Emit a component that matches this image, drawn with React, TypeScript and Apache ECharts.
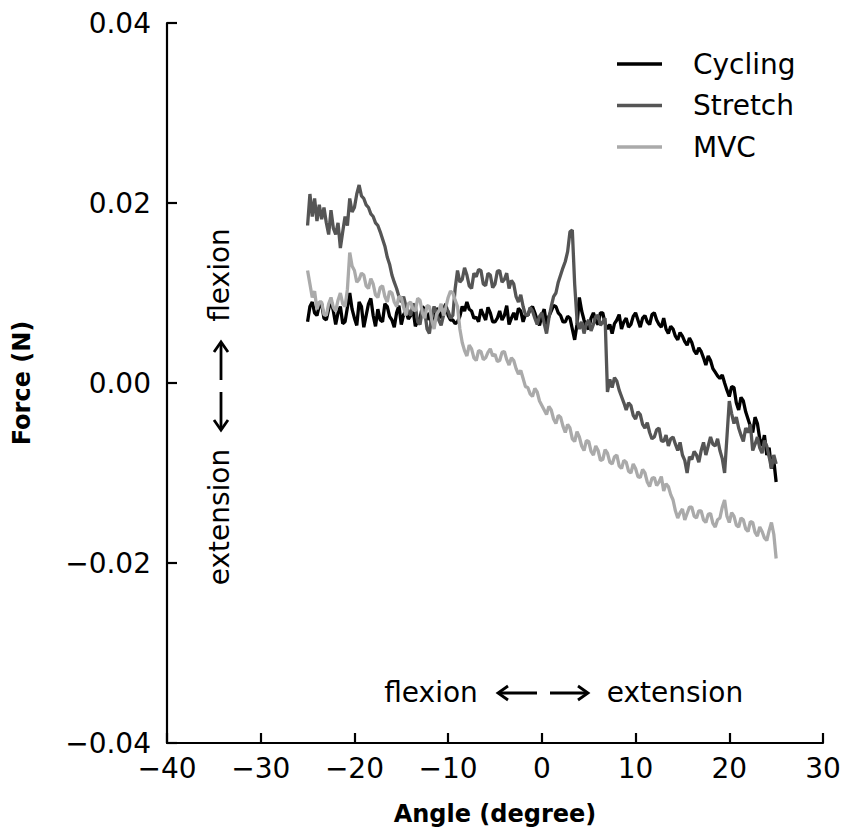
import React, { useEffect, useRef } from "react";
import * as echarts from "echarts";

const angles = [
  -25, -24.75, -24.5, -24.25, -24, -23.75, -23.5, -23.25, -23, -22.75, -22.5, -22.25,
  -22, -21.75, -21.5, -21.25, -21, -20.75, -20.5, -20.25, -20, -19.75, -19.5, -19.25,
  -19, -18.75, -18.5, -18.25, -18, -17.75, -17.5, -17.25, -17, -16.75, -16.5, -16.25,
  -16, -15.75, -15.5, -15.25, -15, -14.75, -14.5, -14.25, -14, -13.75, -13.5, -13.25,
  -13, -12.75, -12.5, -12.25, -12, -11.75, -11.5, -11.25, -11, -10.75, -10.5, -10.25,
  -10, -9.75, -9.5, -9.25, -9, -8.75, -8.5, -8.25, -8, -7.75, -7.5, -7.25,
  -7, -6.75, -6.5, -6.25, -6, -5.75, -5.5, -5.25, -5, -4.75, -4.5, -4.25,
  -4, -3.75, -3.5, -3.25, -3, -2.75, -2.5, -2.25, -2, -1.75, -1.5, -1.25,
  -1, -0.75, -0.5, -0.25, 0, 0.25, 0.5, 0.75, 1, 1.25, 1.5, 1.75,
  2, 2.25, 2.5, 2.75, 3, 3.25, 3.5, 3.75, 4, 4.25, 4.5, 4.75,
  5, 5.25, 5.5, 5.75, 6, 6.25, 6.5, 6.75, 7, 7.25, 7.5, 7.75,
  8, 8.25, 8.5, 8.75, 9, 9.25, 9.5, 9.75, 10, 10.25, 10.5, 10.75,
  11, 11.25, 11.5, 11.75, 12, 12.25, 12.5, 12.75, 13, 13.25, 13.5, 13.75,
  14, 14.25, 14.5, 14.75, 15, 15.25, 15.5, 15.75, 16, 16.25, 16.5, 16.75,
  17, 17.25, 17.5, 17.75, 18, 18.25, 18.5, 18.75, 19, 19.25, 19.5, 19.75,
  20, 20.25, 20.5, 20.75, 21, 21.25, 21.5, 21.75, 22, 22.25, 22.5, 22.75,
  23, 23.25, 23.5, 23.75, 24, 24.25, 24.5, 24.75, 25,
];

const cycling = [
  0.0068, 0.0085, 0.009, 0.0078, 0.0075, 0.0086, 0.0088, 0.0072, 0.007, 0.0082, 0.0092, 0.008,
  0.0065, 0.0078, 0.0085, 0.0066, 0.0068, 0.0084, 0.01, 0.0082, 0.0072, 0.0064, 0.009, 0.0085,
  0.0062, 0.0075, 0.0088, 0.0094, 0.0075, 0.0063, 0.0082, 0.007, 0.0068, 0.0088, 0.0085, 0.0074,
  0.007, 0.0062, 0.0078, 0.0086, 0.0065, 0.0076, 0.008, 0.0071, 0.0075, 0.0082, 0.0063, 0.0069,
  0.0072, 0.0085, 0.0082, 0.007, 0.0078, 0.0064, 0.0068, 0.0083, 0.008, 0.0072, 0.0082, 0.0088,
  0.0075, 0.007, 0.007, 0.0066, 0.0068, 0.0074, 0.0085, 0.008, 0.009, 0.0082, 0.008, 0.0072,
  0.0073, 0.0068, 0.0082, 0.0076, 0.007, 0.0084, 0.0078, 0.0068, 0.0068, 0.0072, 0.008, 0.007,
  0.0075, 0.0086, 0.0065, 0.0072, 0.0078, 0.007, 0.0083, 0.008, 0.0068, 0.0076, 0.0075, 0.0082,
  0.0085, 0.0078, 0.007, 0.0064, 0.0075, 0.0082, 0.0065, 0.0074, 0.008, 0.0086, 0.0085, 0.0078,
  0.0075, 0.0068, 0.0068, 0.0074, 0.0072, 0.006, 0.0048, 0.0065, 0.0095, 0.008, 0.007, 0.0062,
  0.006, 0.0072, 0.0078, 0.0069, 0.0065, 0.0078, 0.0078, 0.0066, 0.006, 0.0065, 0.0055, 0.0066,
  0.007, 0.0076, 0.006, 0.0068, 0.0072, 0.0062, 0.0065, 0.0074, 0.0078, 0.007, 0.0062, 0.0072,
  0.0075, 0.0068, 0.0065, 0.0076, 0.0078, 0.007, 0.0065, 0.0062, 0.0072, 0.006, 0.0055, 0.0063,
  0.006, 0.0052, 0.0048, 0.0056, 0.0052, 0.0046, 0.0042, 0.005, 0.0045, 0.0036, 0.0032, 0.0039,
  0.0035, 0.0028, 0.002, 0.003, 0.0025, 0.0016, 0.0012, 0.0008, 0.0005, 0.0009, 0.0, -0.0008,
  -0.0015, -0.0004, -0.0005, -0.0022, -0.003, -0.0016, -0.002, -0.0032, -0.004, -0.0048, -0.0055, -0.0038,
  -0.0045, -0.0062, -0.007, -0.0058, -0.008, -0.0072, -0.0095, -0.0086, -0.011,
];

const stretch = [
  0.0175, 0.021, 0.0185, 0.0205, 0.018, 0.0198, 0.0182, 0.0195, 0.0178, 0.0165, 0.0192, 0.0172,
  0.0165, 0.0178, 0.015, 0.0168, 0.0185, 0.0175, 0.0205, 0.019, 0.0195, 0.021, 0.022, 0.0208,
  0.0205, 0.0198, 0.0195, 0.0188, 0.0185, 0.0178, 0.0175, 0.0168, 0.016, 0.0152, 0.014, 0.0132,
  0.012, 0.0112, 0.0105, 0.0096, 0.009, 0.0096, 0.0085, 0.008, 0.0075, 0.0088, 0.0085, 0.0068,
  0.0065, 0.0082, 0.008, 0.006, 0.0055, 0.0074, 0.0085, 0.0078, 0.007, 0.0064, 0.0075, 0.0082,
  0.008, 0.0072, 0.0075, 0.0105, 0.0125, 0.0112, 0.0115, 0.0128, 0.012, 0.0108, 0.0105, 0.0122,
  0.0118, 0.0126, 0.0125, 0.011, 0.0108, 0.0122, 0.012, 0.0106, 0.011, 0.0124, 0.0125, 0.0112,
  0.0115, 0.0122, 0.0105, 0.0114, 0.011, 0.0096, 0.009, 0.0098, 0.0085, 0.0076, 0.0075, 0.0084,
  0.008, 0.0072, 0.0065, 0.0074, 0.0078, 0.0066, 0.0055, 0.0072, 0.0085, 0.0096, 0.01, 0.0112,
  0.012, 0.0128, 0.0135, 0.0146, 0.0168, 0.017, 0.011, 0.007, 0.006, 0.0068, 0.0055, 0.0066,
  0.007, 0.0058, 0.0065, 0.0074, 0.0075, 0.0064, 0.0068, 0.0072, -0.001, 0.0004, -0.0005, 0.0006,
  0.0002, -0.0008, -0.0015, -0.0022, -0.003, -0.0022, -0.0025, -0.0036, -0.004, -0.0032, -0.0035, -0.0046,
  -0.005, -0.0044, -0.0055, -0.0062, -0.006, -0.0052, -0.005, -0.0064, -0.0065, -0.0058, -0.007, -0.0062,
  -0.006, -0.0068, -0.0075, -0.0066, -0.008, -0.0086, -0.01, -0.0082, -0.0085, -0.0076, -0.008, -0.0088,
  -0.0075, -0.0066, -0.008, -0.007, -0.006, -0.0068, -0.007, -0.0062, -0.0075, -0.0084, -0.01, -0.006,
  -0.002, -0.0034, -0.0045, -0.0038, -0.005, -0.0058, -0.0065, -0.005, -0.0055, -0.0046, -0.0075, -0.0068,
  -0.006, -0.0072, -0.0078, -0.0064, -0.007, -0.0082, -0.0095, -0.008, -0.009,
];

const mvc = [
  0.0125, 0.011, 0.0095, 0.0102, 0.0082, 0.009, 0.009, 0.0076, 0.0075, 0.0088, 0.0095, 0.0084,
  0.008, 0.0092, 0.01, 0.0088, 0.0085, 0.0104, 0.0145, 0.013, 0.0125, 0.0112, 0.0115, 0.0122,
  0.012, 0.0108, 0.0105, 0.0116, 0.011, 0.0098, 0.0095, 0.0106, 0.0108, 0.0096, 0.009, 0.0102,
  0.01, 0.009, 0.0085, 0.0096, 0.0095, 0.0084, 0.0075, 0.0088, 0.009, 0.0082, 0.008, 0.0094,
  0.0092, 0.0078, 0.0072, 0.0086, 0.0085, 0.007, 0.006, 0.0076, 0.008, 0.0088, 0.0075, 0.0084,
  0.0095, 0.0102, 0.01, 0.0092, 0.0085, 0.006, 0.0045, 0.0036, 0.003, 0.0042, 0.0038, 0.0028,
  0.0025, 0.0036, 0.0035, 0.0026, 0.0028, 0.0034, 0.0038, 0.003, 0.0032, 0.0024, 0.0025, 0.0034,
  0.0035, 0.0026, 0.002, 0.0028, 0.0025, 0.0016, 0.001, 0.0014, 0.0005, -0.0004, -0.0005, -0.0012,
  -0.0015, -0.0006, -0.001, -0.002, -0.0025, -0.003, -0.0035, -0.0026, -0.003, -0.004, -0.0045, -0.0036,
  -0.0038, -0.0048, -0.0055, -0.0046, -0.005, -0.0062, -0.0065, -0.0054, -0.006, -0.007, -0.0075, -0.0064,
  -0.0065, -0.0076, -0.008, -0.007, -0.0075, -0.0086, -0.0085, -0.0074, -0.0078, -0.0088, -0.009, -0.0082,
  -0.008, -0.0092, -0.0095, -0.0086, -0.0088, -0.0098, -0.01, -0.009, -0.0095, -0.0104, -0.0105, -0.0096,
  -0.01, -0.011, -0.0115, -0.0106, -0.0105, -0.0114, -0.011, -0.0104, -0.012, -0.0112, -0.0115, -0.0124,
  -0.013, -0.0142, -0.015, -0.0144, -0.014, -0.0152, -0.0145, -0.0138, -0.0138, -0.0148, -0.015, -0.0142,
  -0.0142, -0.0152, -0.0155, -0.0146, -0.0145, -0.0156, -0.016, -0.0152, -0.015, -0.0138, -0.013, -0.0148,
  -0.0155, -0.0144, -0.0148, -0.0158, -0.016, -0.015, -0.0152, -0.0162, -0.0165, -0.0154, -0.0155, -0.0166,
  -0.017, -0.016, -0.0165, -0.0172, -0.0175, -0.0164, -0.0155, -0.0168, -0.0195,
];

const seriesNames = ["Cycling", "Stretch", "MVC"];
const seriesColors = ["#000000", "#555555", "#aaaaaa"];
const xTicks = { min: -40, max: 30, interval: 10 };
const yTicks = { min: -0.04, max: 0.04, interval: 0.02 };

const FONT = "DejaVu Sans";

function fmtMinus(s: string) {
  return s.replace("-", "\u2212");
}

// Arrow drawn as shaft + chevron head, from (x1,y1) pointing to tip (x2,y2)
function arrow(x1: number, y1: number, x2: number, y2: number) {
  const dx = x2 - x1;
  const dy = y2 - y1;
  const len = Math.sqrt(dx * dx + dy * dy);
  const ux = dx / len;
  const uy = dy / len;
  const px = -uy;
  const py = ux;
  const hl = 10;
  const hw = 7;
  const style = { stroke: "#000", lineWidth: 2.8, fill: null, lineJoin: "miter", lineCap: "butt" };
  return [
    { type: "line", shape: { x1, y1, x2: x2 - ux * 1.5, y2: y2 - uy * 1.5 }, style },
    {
      type: "polyline",
      shape: {
        points: [
          [x2 - ux * hl + px * hw, y2 - uy * hl + py * hw],
          [x2, y2],
          [x2 - ux * hl - px * hw, y2 - uy * hl - py * hw],
        ],
      },
      style,
    },
  ];
}

export default function App() {
  const ref = useRef<HTMLDivElement>(null);
  useEffect(() => {
    if (!ref.current) return;
    const chart = echarts.init(ref.current, undefined, { renderer: "svg" });
    const datasets = [cycling, stretch, mvc];
    const txt = (text: string, x: number, y: number, rot = 0) => ({
      type: "text",
      x,
      y,
      rotation: rot,
      style: {
        text,
        fontFamily: FONT,
        fontSize: 28,
        fill: "#000",
        align: "center",
        verticalAlign: "middle",
      },
    });
    chart.setOption({
      animation: false,
      backgroundColor: "#ffffff",
      grid: { left: 167, right: 24, top: 23, bottom: 90 },
      legend: {
        orient: "vertical",
        left: 612,
        top: 45,
        itemWidth: 45,
        itemHeight: 3.5,
        itemGap: 13.5,
        icon: "rect",
        data: seriesNames,
        textStyle: {
          fontFamily: FONT,
          fontSize: 28,
          color: "#000",
          padding: [0, 0, 0, 26],
        },
      },
      xAxis: {
        type: "value",
        min: xTicks.min,
        max: xTicks.max,
        interval: xTicks.interval,
        name: "Angle (degree)",
        nameLocation: "middle",
        nameGap: 59,
        nameTextStyle: { fontFamily: FONT, fontSize: 24, fontWeight: "bold", color: "#000" },
        axisLine: { show: true, onZero: false, lineStyle: { color: "#000", width: 2.2 } },
        axisTick: { show: true, inside: true, length: 10, lineStyle: { color: "#000", width: 2.2 } },
        axisLabel: {
          fontFamily: FONT,
          fontSize: 28,
          color: "#000",
          margin: 11,
          formatter: (v: number) => fmtMinus(String(Math.round(v))),
        },
        splitLine: { show: false },
      },
      yAxis: {
        type: "value",
        min: yTicks.min,
        max: yTicks.max,
        interval: yTicks.interval,
        name: "Force (N)",
        nameLocation: "middle",
        nameGap: 133,
        nameTextStyle: { fontFamily: FONT, fontSize: 24, fontWeight: "bold", color: "#000" },
        axisLine: { show: true, onZero: false, lineStyle: { color: "#000", width: 2.2 } },
        axisTick: { show: true, inside: true, length: 10, lineStyle: { color: "#000", width: 2.2 } },
        axisLabel: {
          fontFamily: FONT,
          fontSize: 28,
          color: "#000",
          margin: 16,
          formatter: (v: number) => fmtMinus(v.toFixed(2)),
        },
        splitLine: { show: false },
      },
      graphic: [
        txt("flexion", 431, 692),
        txt("extension", 675, 692),
        ...arrow(537, 693, 498, 693),
        ...arrow(550, 693, 588, 693),
        txt("flexion", 219, 275, Math.PI / 2),
        txt("extension", 219, 517, Math.PI / 2),
        ...arrow(221, 380, 221, 342),
        ...arrow(221, 392, 221, 430),
      ],
      series: datasets.map((d, i) => ({
        name: seriesNames[i],
        type: "line",
        data: angles.map((a, j) => [a, d[j]]),
        symbol: "none",
        showSymbol: false,
        lineStyle: { color: seriesColors[i], width: 3.3 },
        itemStyle: { color: seriesColors[i] },
        z: 2 + i,
      })),
    });
    return () => chart.dispose();
  }, []);
  return (
    <div
      ref={ref}
      style={{ position: "absolute", left: 0, top: 0, width: 847, height: 833 }}
    />
  );
}
